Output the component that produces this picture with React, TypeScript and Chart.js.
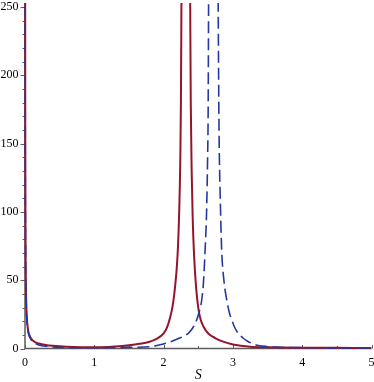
import { useEffect, useRef } from "react";
import { Chart, registerables } from "chart.js";

Chart.register(...registerables);

// ---- data ----
const xTicks = [0, 1, 2, 3, 4, 5];
const yTicks = [0, 50, 100, 150, 200, 250];
const xTitle = "S";

const redS = [0.002, 0.004, 0.006, 0.01, 0.015, 0.02, 0.03, 0.05, 0.075, 0.1, 0.15, 0.2, 0.3, 0.4, 0.5, 0.7, 0.9, 1.1, 1.3, 1.5, 1.65, 1.8, 1.9, 2.0, 2.05, 2.09, 2.13, 2.165, 2.19, 2.208, 2.225, 2.24, 2.25, 2.257, 2.264, 2.32, 2.376, 2.384, 2.392, 2.405, 2.42, 2.44, 2.47, 2.5, 2.53, 2.58, 2.645, 2.75, 2.86, 3.0, 3.25, 3.5, 4.0, 4.5, 5.0];
const redValues = [300, 150, 100, 60, 40, 30, 20, 12, 8.5, 6.5, 4.5, 3.6, 2.6, 2.0, 1.6, 1.1, 0.9, 1.0, 1.5, 2.4, 3.4, 5, 7, 11, 15.5, 22, 31, 45, 59, 75, 100, 135, 180, 250, 330, null, 330, 250, 180, 130, 95, 68, 44, 30, 22, 15.5, 11, 7.5, 5, 3, 1.3, 0.9, 0.6, 0.5, 0.4];

const blueS = [0.002, 0.004, 0.006, 0.01, 0.015, 0.02, 0.03, 0.05, 0.075, 0.1, 0.15, 0.2, 0.3, 0.4, 0.5, 0.7, 1.0, 1.3, 1.5, 1.8, 1.9, 2.0, 2.14, 2.25, 2.356, 2.42, 2.478, 2.52, 2.55, 2.575, 2.597, 2.62, 2.635, 2.643, 2.649, 2.656, 2.72, 2.781, 2.788, 2.8, 2.82, 2.838, 2.87, 2.911, 2.95, 2.983, 3.03, 3.078, 3.15, 3.2, 3.3, 3.37, 3.5, 3.6, 4.0, 4.5, 5.0];
const blueValues = [300, 145, 95, 57, 38, 28, 18.5, 11, 7.5, 5.5, 3.6, 2.6, 1.6, 1.1, 0.8, 0.6, 0.5, 0.7, 0.9, 1.3, 2.2, 3.3, 5.7, 8, 11.1, 15, 21, 28, 35.5, 48, 70, 100, 140, 175, 250, 330, null, 330, 250, 160, 105, 72, 50, 35.5, 26, 21, 15, 11.1, 7.5, 5.7, 3.2, 2.2, 1.4, 1.0, 0.6, 0.45, 0.4];

const RED = "#96142a";
const BLUE = "#2538a0";
const AXIS = "#5c5c5c";
const FONT = "'Liberation Serif', 'Times New Roman', serif";

const toPoints = (xs: number[], ys: (number | null)[]) =>
  xs.map((x, i) => ({ x, y: ys[i] }));

const axisPlugin = {
  id: "mapleAxes",
  beforeDatasetsDraw(chart: any) {
    const { ctx, chartArea: a, scales } = chart;
    const x = scales.x;
    const y = scales.y;
    ctx.save();
    ctx.strokeStyle = AXIS;
    ctx.lineWidth = 1.5;
    ctx.beginPath();
    ctx.moveTo(a.left, a.top - 4);
    ctx.lineTo(a.left, a.bottom);
    ctx.lineTo(a.right, a.bottom);
    ctx.stroke();
    ctx.lineWidth = 1;
    ctx.beginPath();
    for (let v = 0; v <= 250; v += 10) {
      const py = Math.round(y.getPixelForValue(v)) + 0.5;
      const len = v % 50 === 0 ? 4.5 : 2.5;
      ctx.moveTo(a.left - len, py);
      ctx.lineTo(a.left, py);
    }
    for (let v = 0; v <= 5.0001; v += 0.5) {
      const px = Math.round(x.getPixelForValue(v)) + 0.5;
      const len = Math.abs(v - Math.round(v)) < 1e-6 ? 3.5 : 2.5;
      ctx.moveTo(px, a.bottom);
      ctx.lineTo(px, a.bottom - len);
    }
    ctx.stroke();
    ctx.restore();
  },
};

export default function App() {
  const ref = useRef<HTMLCanvasElement | null>(null);

  useEffect(() => {
    if (!ref.current) return;
    const chart = new Chart(ref.current, {
      type: "line",
      data: {
        datasets: [
          {
            label: "red",
            data: toPoints(redS, redValues) as any,
            borderColor: RED,
            borderWidth: 2,
            pointRadius: 0,
            fill: false,
            cubicInterpolationMode: "monotone",
            spanGaps: false,
            order: 2,
            clip: { left: 3, top: 4, right: 0, bottom: 2 } as any,
          },
          {
            label: "blue",
            data: toPoints(blueS, blueValues) as any,
            borderColor: BLUE,
            borderWidth: 1.6,
            borderDash: [12, 5],
            pointRadius: 0,
            fill: false,
            cubicInterpolationMode: "monotone",
            spanGaps: false,
            order: 1,
            clip: { left: 3, top: 4, right: 0, bottom: 2 } as any,
          },
        ],
      },
      options: {
        animation: false,
        responsive: false,
        devicePixelRatio: 1,
        events: [],
        layout: { padding: { top: 7, right: 2.5, left: 0, bottom: 0 } },
        plugins: {
          legend: { display: false },
          tooltip: { enabled: false },
          title: { display: false },
        },
        scales: {
          x: {
            type: "linear",
            min: 0,
            max: 5,
            grid: { display: false, drawTicks: false },
            border: { display: false },
            afterBuildTicks: (s: any) => {
              s.ticks = xTicks.map((v) => ({ value: v }));
            },
            afterFit: (s: any) => {
              s.height = 33.5;
              s.paddingLeft = 0;
              s.paddingRight = 0;
            },
            ticks: {
              padding: 7,
              color: "#000",
              maxRotation: 0,
              autoSkip: false,
              font: { family: FONT, size: 12 },
              callback: (v: any) => String(v),
            },
            title: {
              display: true,
              text: xTitle,
              color: "#000",
              padding: 0,
              font: { family: FONT, size: 14, style: "italic", lineHeight: 1 },
            },
          },
          y: {
            type: "linear",
            min: 0,
            max: 250,
            grid: { display: false, drawTicks: false },
            border: { display: false },
            afterBuildTicks: (s: any) => {
              s.ticks = yTicks.map((v) => ({ value: v }));
            },
            afterFit: (s: any) => {
              s.width = 25;
              s.paddingTop = 0;
              s.paddingBottom = 0;
            },
            ticks: {
              padding: 6.5,
              color: "#000",
              autoSkip: false,
              font: { family: FONT, size: 12 },
              callback: (v: any) => String(v),
            },
          },
        },
      },
      plugins: [axisPlugin],
    });
    return () => chart.destroy();
  }, []);

  return (
    <div
      style={{
        position: "fixed",
        left: 0,
        top: 0,
        width: 374,
        height: 382,
        background: "#fff",
      }}
    >
      <canvas ref={ref} width={374} height={382} style={{ display: "block" }} />
    </div>
  );
}
